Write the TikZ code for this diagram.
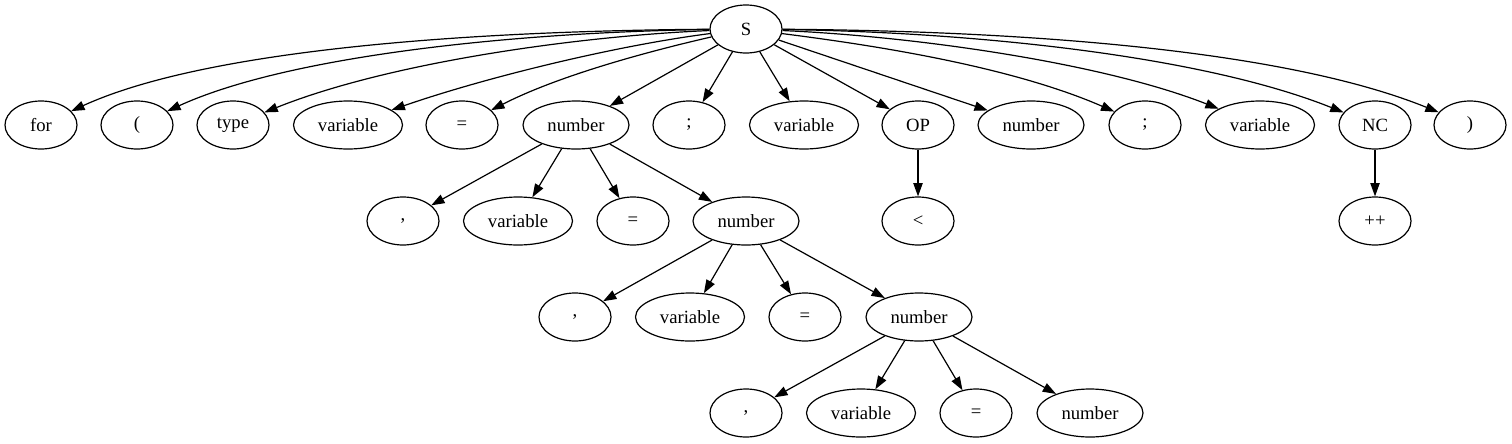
\documentclass[tikz,border=0pt]{standalone}
\usepackage{fontspec}
\setmainfont{Liberation Serif}
\usetikzlibrary{shapes.geometric, arrows.meta}

\tikzset{
  tnode/.style={draw, ellipse, line width=0.9pt, minimum width=54pt, minimum height=36pt, inner sep=0pt, font=\fontsize{14}{16}\selectfont},
  varnode/.style={tnode, minimum width=81.75pt},
  numnode/.style={tnode, minimum width=79.5pt},
  tedge/.style={line width=0.9pt, -{Triangle[length=10pt,width=7pt]}}
}

\begin{document}
\begin{tikzpicture}[x=0.75pt,y=0.75pt,yscale=-1,xscale=1]
\useasboundingbox (0,0) rectangle (1512,443);

% root
\node[tnode] (S) at (746,29) {S};

% first level
\node[tnode] (for) at (41,125) {for};
\node[tnode] (lpar) at (137,125) {(};
\node[tnode] (type) at (233,125) {type};
\node[varnode] (var1) at (348,125) {variable};
\node[tnode] (eq1) at (462,125) {=};
\node[numnode] (num1) at (576,125) {number};
\node[tnode] (semi1) at (689,125) {;};
\node[varnode] (var2) at (804,125) {variable};
\node[tnode] (op) at (918,125) {OP};
\node[numnode] (num2) at (1031,125) {number};
\node[tnode] (semi2) at (1145,125) {;};
\node[varnode] (var3) at (1260,125) {variable};
\node[tnode] (nc) at (1375,125) {NC};
\node[tnode] (rpar) at (1470,125) {)};

% second level
\node[tnode] (comma1) at (403,221) {,};
\node[varnode] (var4) at (518,221) {variable};
\node[tnode] (eq2) at (633,221) {=};
\node[numnode] (num3) at (746,221) {number};
\node[tnode] (lt) at (918,221) {<};
\node[tnode] (inc) at (1375,221) {++};

% third level
\node[tnode] (comma2) at (575,317) {,};
\node[varnode] (var5) at (690,317) {variable};
\node[tnode] (eq3) at (805,317) {=};
\node[numnode] (num4) at (919,317) {number};

% fourth level
\node[tnode] (comma3) at (746,413) {,};
\node[varnode] (var6) at (861,413) {variable};
\node[tnode] (eq4) at (976,413) {=};
\node[numnode] (num5) at (1090,413) {number};

% edges from S, curved to the far ones
\draw[tedge] (S) .. controls (450,31) and (200,52) .. (for);
\draw[tedge] (S) .. controls (520,32) and (290,55) .. (lpar);
\draw[tedge] (S) .. controls (580,36) and (390,62) .. (type);
\draw[tedge] (S) .. controls (620,45) and (490,76) .. (var1);
\draw[tedge] (S) .. controls (650,51) and (560,75) .. (eq1);
\draw[tedge] (S) -- (num1);
\draw[tedge] (S) -- (semi1);
\draw[tedge] (S) -- (var2);
\draw[tedge] (S) -- (op);
\draw[tedge] (S) -- (num2);
\draw[tedge] (S) .. controls (872,45) and (1010,66) .. (semi2);
\draw[tedge] (S) .. controls (910,36) and (1100,62) .. (var3);
\draw[tedge] (S) .. controls (970,32) and (1200,55) .. (nc);
\draw[tedge] (S) .. controls (1040,31) and (1290,52) .. (rpar);

% lower edges
\foreach \c in {comma1, var4, eq2, num3} \draw[tedge] (num1) -- (\c);
\draw[tedge] (op) -- (lt);
\draw[tedge] (nc) -- (inc);
\foreach \c in {comma2, var5, eq3, num4} \draw[tedge] (num3) -- (\c);
\foreach \c in {comma3, var6, eq4, num5} \draw[tedge] (num4) -- (\c);

\end{tikzpicture}
\end{document}
